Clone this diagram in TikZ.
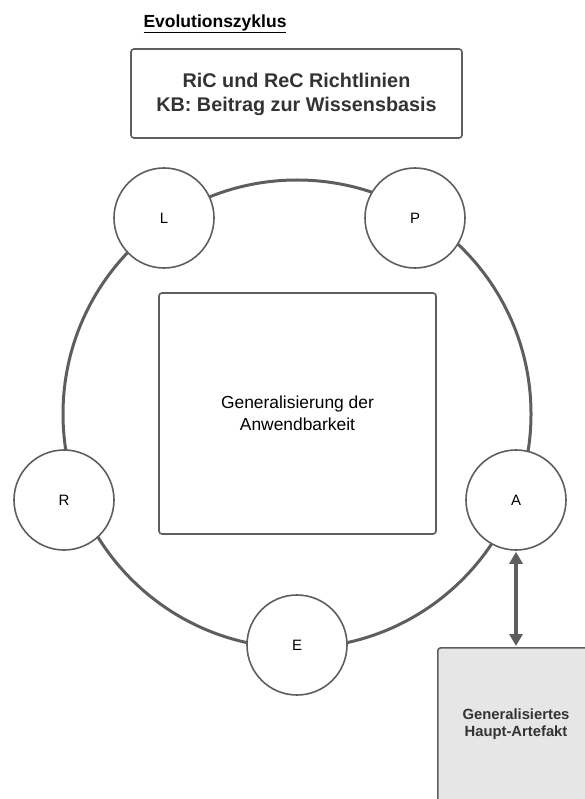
\documentclass[tikz,border=0pt]{standalone}
\usepackage{fontspec}
\setmainfont{Liberation Sans}
\usepackage{xcolor}
\usepackage{tikz}
\usetikzlibrary{arrows.meta,positioning}
\definecolor{linegray}{HTML}{5E5E5E}
\definecolor{txtgray}{HTML}{333333}
\definecolor{artfill}{HTML}{E6E6E6}

\begin{document}
\begin{tikzpicture}[x=1pt,y=-1pt,
  phase/.style={circle,draw=linegray,line width=1.6pt,fill=white,
                minimum size=100pt,inner sep=0pt,font=\fontsize{15}{17}\selectfont},
  box/.style={draw=linegray,line width=1.6pt,rounded corners=3pt,align=center,
              inner sep=0pt},
  link/.style={line width=3.5pt,draw=linegray,{Triangle[length=12pt,width=13pt]}-{Triangle[length=12pt,width=13pt]},shorten <=1pt,shorten >=1pt}]
  \clip (0,0) rectangle (585,799);
  \useasboundingbox (0,0) rectangle (585,799);
  % title and guideline box
  \node[font=\bfseries\fontsize{17.5}{20}\selectfont,text=black] (title) at (215,24) {\underline{Evolutionszyklus}};
  \node[box,minimum width=331pt,minimum height=89pt,text=txtgray,
        font=\bfseries\fontsize{19.8}{24}\selectfont] (rules) at (296.5,93.5) {};
  \node[font=\bfseries\fontsize{19.8}{24}\selectfont,text=txtgray,align=center] (rulestxt) at (296.5,94)
        {RiC und ReC Richtlinien\\KB: Beitrag zur Wissensbasis};
  % cycle
  \draw[linegray,line width=3pt] (297,414) circle (234);
  \node[box,minimum width=277pt,minimum height=241pt,fill=white,
        font=\fontsize{17.4}{22}\selectfont] (gen) at (297.5,413.5)
        {Generalisierung der\\Anwendbarkeit};
  \node[phase] (L) at (164,218) {L};
  \node[phase] (P) at (415,218) {P};
  \node[phase] (R) at (64,500) {R};
  \node[phase] (A) at (516,500) {A};
  \node[phase] (E) at (297,645) {E};
  % main artefact
  \node[box,fill=artfill,minimum width=160pt,minimum height=200pt,anchor=north west] (art) at (437,647) {};
  \node[font=\bfseries\fontsize{14.8}{17}\selectfont,text=txtgray,align=center] (artlbl) at (516,724)
        {Generalisiertes\\Haupt-Artefakt};
  \draw[link] (A.south) -- (art.north -| A.south);
\end{tikzpicture}
\end{document}
